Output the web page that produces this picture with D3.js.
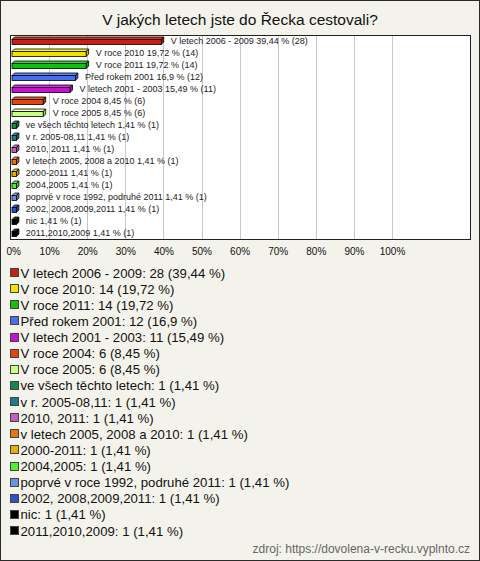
<!DOCTYPE html>
<html><head><meta charset="utf-8">
<script src="https://cdn.jsdelivr.net/npm/d3@7"></script>
<style>html,body{margin:0;padding:0;background:#fff}</style>
</head><body>
<script>
const categories = [
  "V letech 2006 - 2009","V roce 2010","V roce 2011","Před rokem 2001","V letech 2001 - 2003",
  "V roce 2004","V roce 2005","ve všech těchto letech","v r. 2005-08,11","2010, 2011",
  "v letech 2005, 2008 a 2010","2000-2011","2004,2005","poprvé v roce 1992, podruhé 2011",
  "2002, 2008,2009,2011","nic","2011,2010,2009"
];
const counts = [28,14,14,12,11,6,6,1,1,1,1,1,1,1,1,1,1];
const percents = [39.44,19.72,19.72,16.9,15.49,8.45,8.45,1.41,1.41,1.41,1.41,1.41,1.41,1.41,1.41,1.41,1.41];
const colors = ["#c42314","#f2e200","#12c012","#4a6ef0","#c412d0","#e24412","#c8ff82","#108a52","#207a8e","#c060c0","#e87412","#e8b004","#52f032","#6a92e2","#2a52c2","#000000","#000000"];
const tickValues = [0,10,20,30,40,50,60,70,80,90,100];
const title = "V jakých letech jste do Řecka cestovali?";
const source = "zdroj: https://dovolena-v-recku.vyplnto.cz";

const fmt = v => String(v).replace(".", ",");
const W = 480, H = 561;
const svg = d3.select("body").append("svg").attr("width", W).attr("height", H)
  .style("font-family", "Arial, 'Liberation Sans', sans-serif");

svg.append("rect").attr("x",0.5).attr("y",0.5).attr("width",W-1).attr("height",H-1)
  .attr("fill","#f4f3eb").attr("stroke","#2a2a2a");

svg.append("text").attr("x",240).attr("y",25).attr("text-anchor","middle")
  .attr("font-size",15.5).attr("fill","#111").text(title);

const box = {x0:10, x1:470, y0:35, y1:239};
svg.append("rect").attr("x",box.x0+0.5).attr("y",box.y0+0.5)
  .attr("width",box.x1-box.x0).attr("height",box.y1-box.y0)
  .attr("fill","#fff").attr("stroke","#222");

const x = d3.scaleLinear().domain([0,100]).range([11,392]);
const y = d3.scaleBand().domain(categories).range([box.y0, box.y1]);

// gridlines
svg.append("g").selectAll("line").data(tickValues.filter(t=>t>0)).join("line")
  .attr("x1",d=>Math.round(x(d))+0.5).attr("x2",d=>Math.round(x(d))+0.5)
  .attr("y1",box.y0+1).attr("y2",box.y1)
  .attr("stroke","#c8c8c8");

// axis labels
const axis = d3.axisBottom(x).tickValues(tickValues).tickSize(0).tickFormat(d=>d+"%");
const ag = svg.append("g").attr("transform",`translate(0,${box.y1+6})`).call(axis);
ag.select(".domain").remove();
ag.selectAll("text").attr("font-size",10).attr("fill","#111").attr("font-family","Arial, 'Liberation Sans', sans-serif");
ag.selectAll(".tick").filter(d=>d===0).select("text").attr("text-anchor","start").attr("dx",-5);

// 3D bars
const d = 2.5, bh = 5;
const rows = categories.map((c,i)=>({c, v:percents[i], n:counts[i], col:colors[i]}));
const bg = svg.append("g");
rows.forEach(r=>{
  const x0 = x(0)+1, x1 = x(r.v);
  const yc = y(r.c) + y.bandwidth()/2;
  const yt = yc - bh/2 + 1;
  const base = d3.color(r.col);
  const top = base.brighter(0.6), side = base.darker(0.5);
  bg.append("polygon").attr("points",[[x0,yt],[x0+d,yt-d],[x1+d,yt-d],[x1,yt]].join(" "))
    .attr("fill", r.col==="#000000" ? "#333" : top).attr("stroke","#000").attr("stroke-width",0.8);
  bg.append("polygon").attr("points",[[x1,yt],[x1+d,yt-d],[x1+d,yt+bh-d],[x1,yt+bh]].join(" "))
    .attr("fill", side).attr("stroke","#000").attr("stroke-width",0.8);
  bg.append("rect").attr("x",x0).attr("y",yt).attr("width",x1-x0).attr("height",bh)
    .attr("fill",r.col).attr("stroke","#000").attr("stroke-width",0.8);
  bg.append("text").attr("x",x1+d+7).attr("y",yc+3).attr("font-size",9).attr("fill","#222")
    .text(`${r.c} ${fmt(r.v)} % (${r.n})`);
});

// legend
const ly = d3.scaleLinear().domain([0,16]).range([273,531]);
const lg = svg.append("g");
rows.forEach((r,i)=>{
  const yc = ly(i);
  lg.append("rect").attr("x",10.5).attr("y",Math.round(yc)-4.5).attr("width",8).attr("height",8)
    .attr("fill",r.col).attr("stroke","#444").attr("stroke-width",1);
  lg.append("text").attr("x",20.5).attr("y",yc+4.5).attr("font-size",13.2).attr("fill","#111")
    .text(`${r.c}: ${r.n} (${fmt(r.v)} %)`);
});

svg.append("text").attr("x",470).attr("y",553).attr("text-anchor","end")
  .attr("font-size",12).attr("fill","#666").text(source);
</script>
</body></html>
